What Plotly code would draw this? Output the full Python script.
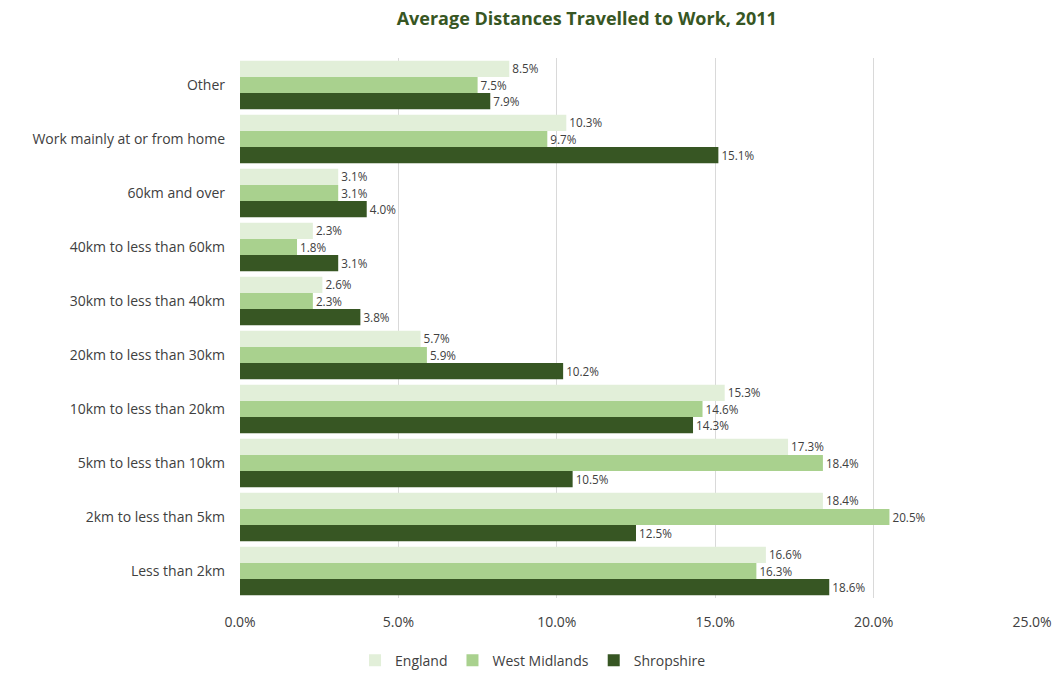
import plotly.graph_objects as go

categories = [
    "Less than 2km",
    "2km to less than 5km",
    "5km to less than 10km",
    "10km to less than 20km",
    "20km to less than 30km",
    "30km to less than 40km",
    "40km to less than 60km",
    "60km and over",
    "Work mainly at or from home",
    "Other",
]
england = [16.6, 18.4, 17.3, 15.3, 5.7, 2.6, 2.3, 3.1, 10.3, 8.5]
west_midlands = [16.3, 20.5, 18.4, 14.6, 5.9, 2.3, 1.8, 3.1, 9.7, 7.5]
shropshire = [18.6, 12.5, 10.5, 14.3, 10.2, 3.8, 3.1, 4.0, 15.1, 7.9]

x_ticks = [0, 5, 10, 15, 20, 25]
x_tick_labels = ["0.0%", "5.0%", "10.0%", "15.0%", "20.0%", "25.0%"]

series = [
    ("Shropshire", shropshire, "#375623"),
    ("West Midlands", west_midlands, "#a9d18e"),
    ("England", england, "#e2efd9"),
]

FONT = "'Open Sans', Lato, sans-serif"

fig = go.Figure()
for name, vals, color in series:
    fig.add_trace(go.Bar(
        y=categories,
        x=vals,
        name=name,
        orientation="h",
        marker=dict(color=color, line=dict(width=0)),
        text=[f"{v:.1f}%" for v in vals],
        textposition="outside",
        textfont=dict(size=13, color="#404040", family=FONT),
        cliponaxis=False,
    ))

fig.update_layout(
    width=1061,
    height=673,
    barmode="group",
    bargap=0.1,
    bargroupgap=0,
    plot_bgcolor="white",
    paper_bgcolor="white",
    margin=dict(l=240, r=29, t=58, b=75, autoexpand=False),
    font=dict(family=FONT, size=14, color="#404040"),
    title=dict(
        text="<b>Average Distances Travelled to Work, 2011</b>",
        x=0.553, xanchor="center", y=0.972, yanchor="middle",
        xref="container", yref="container",
        font=dict(size=18, color="#375623", family=FONT),
    ),
    legend=dict(
        orientation="h",
        x=0.37, xanchor="center",
        yref="container", y=0.042, yanchor="top",
        traceorder="reversed",
        font=dict(size=14, color="#404040"),
        itemwidth=30,
    ),
)

fig.update_xaxes(
    range=[0, 25],
    tickvals=x_ticks,
    ticktext=x_tick_labels,
    showgrid=True,
    gridcolor="#d9d9d9",
    gridwidth=1,
    zeroline=False,
    showline=False,
    ticks="",
    ticklabelstandoff=14,
    tickfont=dict(size=14, color="#404040"),
)
fig.update_yaxes(
    showgrid=False,
    showline=False,
    ticks="",
    ticklabelstandoff=14,
    tickfont=dict(size=14, color="#404040"),
)

fig.write_html("out.html")
